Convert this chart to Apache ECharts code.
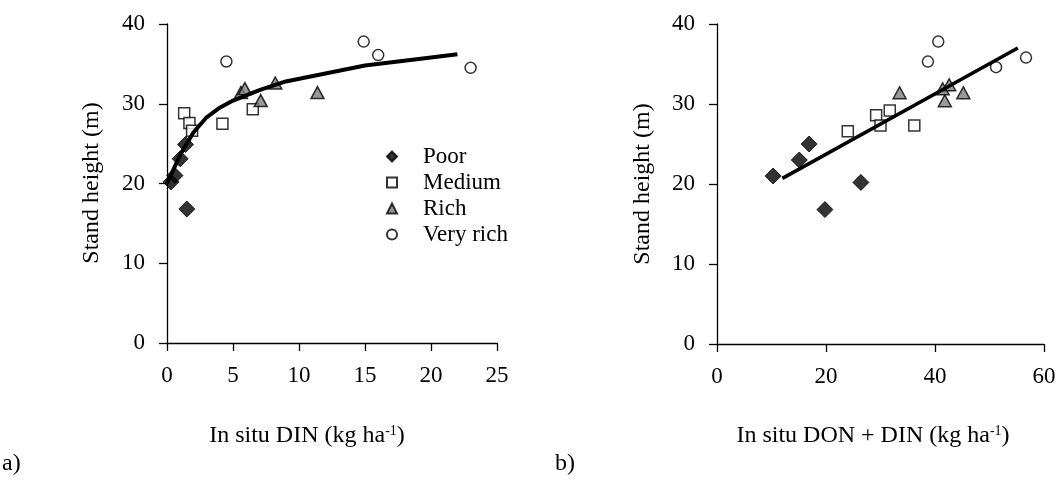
<!DOCTYPE html>
<html>
<head>
<meta charset="utf-8">
<script src="https://cdn.jsdelivr.net/npm/echarts@6/dist/echarts.min.js"></script>
<style>
  html, body { margin: 0; padding: 0; background: #fff; }
  #chart { width: 1060px; height: 489px; }
</style>
</head>
<body>
<div id="chart"></div>
<script>
// a) stand height vs in situ DIN
var poorDIN = [[0.3, 20.2], [0.6, 21.0], [1.0, 23.1], [1.4, 24.9], [1.5, 16.8]];
var mediumDIN = [[1.3, 28.8], [1.7, 27.6], [1.9, 26.6], [4.2, 27.5], [6.5, 29.3]];
var richDIN = [[5.6, 31.4], [5.9, 31.9], [7.1, 30.4], [8.2, 32.6], [11.4, 31.4]];
var veryRichDIN = [[4.5, 35.3], [14.9, 37.8], [16.0, 36.1], [23.0, 34.5]];
var fitDIN = [[0, 20.0], [1, 23.6], [2, 26.4], [3, 28.3], [4, 29.5], [5, 30.4], [7, 31.7], [9, 32.8], [15, 34.8], [20, 35.8], [22, 36.2]];

// b) stand height vs in situ DON + DIN
var poorTot = [[10.3, 21.0], [15.1, 23.0], [16.9, 25.0], [26.4, 20.2], [19.8, 16.8]];
var mediumTot = [[24.0, 26.6], [29.2, 28.6], [30.0, 27.3], [31.7, 29.2], [36.2, 27.3]];
var richTot = [[33.5, 31.4], [41.4, 31.9], [42.6, 32.4], [41.8, 30.4], [45.2, 31.4]];
var veryRichTot = [[40.6, 37.8], [38.7, 35.3], [51.2, 34.6], [56.7, 35.8]];
var fitTot = [[12.0, 20.7], [55.2, 37.0]];

var groups = ['Poor', 'Medium', 'Rich', 'Very rich'];

var font = 'Liberation Serif';

var chart = echarts.init(document.getElementById('chart'));

var marker = {
  'Poor': { symbol: 'diamond', symbolSize: 16, itemStyle: { color: '#000', borderColor: '#000', borderWidth: 1 } },
  'Medium': { symbol: 'rect', symbolSize: 11, itemStyle: { color: '#fff', borderColor: '#000', borderWidth: 1.5 } },
  'Rich': { symbol: 'triangle', symbolSize: [13, 12], itemStyle: { color: '#808080', borderColor: '#000', borderWidth: 1.5 } },
  'Very rich': { symbol: 'circle', symbolSize: 11, itemStyle: { color: '#fff', borderColor: '#000', borderWidth: 1.5 } }
};

function scatter(name, data, idx) {
  var m = marker[name];
  return {
    name: name,
    type: 'scatter',
    xAxisIndex: idx,
    yAxisIndex: idx,
    data: data,
    symbol: m.symbol,
    symbolSize: m.symbolSize,
    itemStyle: m.itemStyle,
    emphasis: { disabled: true },
    z: 3
  };
}

function fit(data, idx, w) {
  return {
    type: 'line',
    xAxisIndex: idx,
    yAxisIndex: idx,
    data: data,
    symbol: 'none',
    lineStyle: { color: '#000', width: w },
    silent: true,
    z: 4
  };
}

function xAx(idx, max, interval) {
  return {
    type: 'value', gridIndex: idx, min: 0, max: max, interval: interval,
    axisLine: { onZero: false, lineStyle: { color: '#000', width: 1.3 } },
    axisTick: { inside: false, length: 8, lineStyle: { color: '#000', width: 1.3 } },
    axisLabel: { color: '#000', fontFamily: font, fontSize: 23, margin: 21 },
    splitLine: { show: false }
  };
}

function yAx(idx) {
  return {
    type: 'value', gridIndex: idx, min: 0, max: 40, interval: 10,
    axisLine: { show: true, lineStyle: { color: '#000', width: 1.3 } },
    axisTick: { show: true, inside: false, length: 8, lineStyle: { color: '#000', width: 1.3 } },
    axisLabel: { color: '#000', fontFamily: font, fontSize: 23, margin: 22 },
    splitLine: { show: false }
  };
}

var supRich = { sup: { fontFamily: font, fontSize: 14, verticalAlign: 'top', lineHeight: 14 } };

var option = {
  backgroundColor: '#fff',
  animation: false,
  grid: [
    { left: 167, top: 24, width: 330, height: 319 },
    { left: 717, top: 24, width: 327, height: 320 }
  ],
  xAxis: [xAx(0, 25, 5), xAx(1, 60, 20)],
  yAxis: [yAx(0), yAx(1)],
  legend: {
    data: groups,
    orient: 'vertical',
    left: 381,
    top: 140,
    itemWidth: 10,
    itemHeight: 10,
    itemGap: 3,
    selectedMode: false,
    textStyle: { color: '#000', fontFamily: font, fontSize: 23, padding: [0, 0, 0, 21] }
  },
  graphic: [
    { type: 'text', x: 92, y: 183, rotation: Math.PI / 2,
      style: { text: 'Stand height (m)', font: '24px "Liberation Serif"', fill: '#000', align: 'center', verticalAlign: 'middle' } },
    { type: 'text', x: 643, y: 184, rotation: Math.PI / 2,
      style: { text: 'Stand height (m)', font: '24px "Liberation Serif"', fill: '#000', align: 'center', verticalAlign: 'middle' } },
    { type: 'text', x: 307, y: 436,
      style: { text: 'In situ DIN (kg ha{sup|-1})', font: '24px "Liberation Serif"', fill: '#000', align: 'center', verticalAlign: 'middle', rich: supRich } },
    { type: 'text', x: 873, y: 436,
      style: { text: 'In situ DON + DIN (kg ha{sup|-1})', font: '24px "Liberation Serif"', fill: '#000', align: 'center', verticalAlign: 'middle', rich: supRich } },
    { type: 'text', x: 2, y: 464,
      style: { text: 'a)', font: '24px "Liberation Serif"', fill: '#000', align: 'left', verticalAlign: 'middle' } },
    { type: 'text', x: 555, y: 464,
      style: { text: 'b)', font: '24px "Liberation Serif"', fill: '#000', align: 'left', verticalAlign: 'middle' } }
  ],
  series: [
    scatter('Poor', poorDIN, 0),
    scatter('Medium', mediumDIN, 0),
    scatter('Rich', richDIN, 0),
    scatter('Very rich', veryRichDIN, 0),
    fit(fitDIN, 0, 4),
    scatter('Poor', poorTot, 1),
    scatter('Medium', mediumTot, 1),
    scatter('Rich', richTot, 1),
    scatter('Very rich', veryRichTot, 1),
    fit(fitTot, 1, 3.5)
  ]
};

chart.setOption(option);
</script>
</body>
</html>
